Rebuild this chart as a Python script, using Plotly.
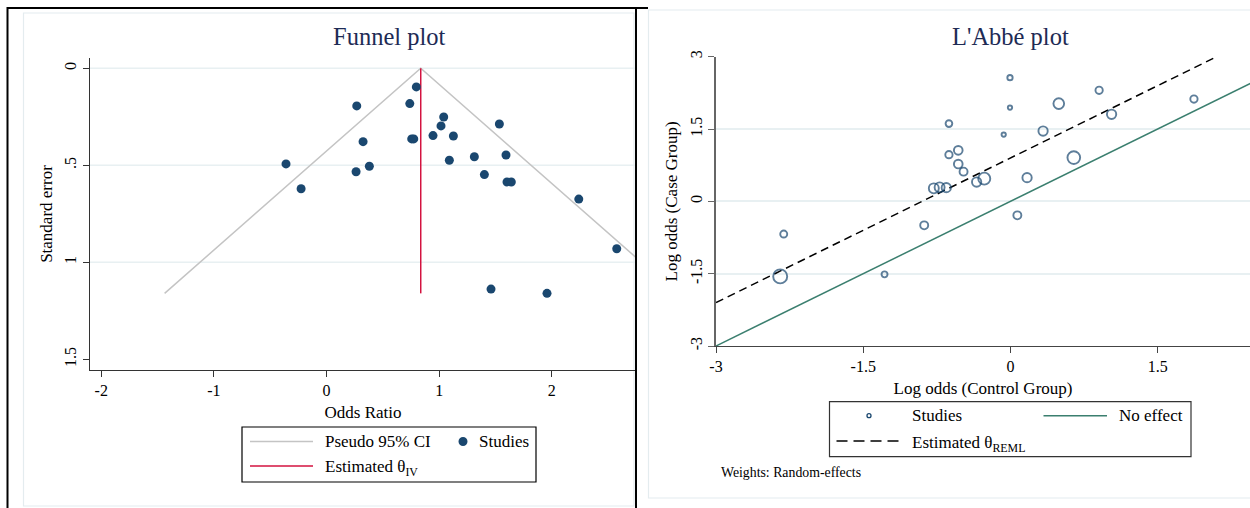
import plotly.graph_objects as go

# ---------------- Funnel plot data (log odds ratio vs standard error) ----------------
funnel_log_or = [-0.360, -0.226, 0.268, 0.324, 0.262, 0.380, 0.739, 0.797, 0.756, 0.774,
                 1.040, 1.016, 0.945, 1.126, 1.090, 1.312, 1.401, 1.534, 1.593, 1.602,
                 1.640, 2.239, 2.576, 1.460, 1.957]
funnel_se = [0.493, 0.621, 0.194, 0.378, 0.533, 0.505, 0.182, 0.096, 0.364, 0.364,
             0.251, 0.297, 0.347, 0.349, 0.474, 0.456, 0.548, 0.287, 0.447, 0.586,
             0.586, 0.674, 0.930, 1.138, 1.160]
theta_iv = 0.836
se_max = 1.16
funnel_xticks = [-2, -1, 0, 1, 2]
funnel_yticks = [0, 0.5, 1, 1.5]
funnel_yticklabels = ["0", ".5", "1", "1.5"]
funnel_gridlines = [0, 0.5, 1]

# ---------------- L'Abbé plot data ----------------
labbe_control = [-2.346, -2.310, -1.283, -0.879, -0.781, -0.722, -0.654, -0.627, -0.627,
                 -0.532, -0.532, -0.478, -0.345, -0.267, -0.069, -0.005, -0.005, 0.070,
                 0.169, 0.332, 0.492, 0.645, 0.903, 1.030, 1.869]
labbe_case = [-1.556, -0.678, -1.514, -0.498, 0.270, 0.290, 0.284, 1.612, 0.969,
              1.058, 0.774, 0.616, 0.400, 0.471, 1.384, 2.566, 1.944, -0.290,
              0.492, 1.458, 2.027, 0.907, 2.303, 1.805, 2.122]
labbe_weight_size = [14, 7, 6, 8, 10, 10, 9.3, 6.7, 7.3,
                     8.7, 8.7, 8, 9.3, 12, 4.3, 5.3, 4.3, 8,
                     9.3, 9.3, 10.7, 12.7, 7.3, 9.3, 7.3]
theta_reml = 0.90
labbe_ticks = [-3, -1.5, 0, 1.5, 3]
labbe_ticklabels = ["-3", "-1.5", "0", "1.5", "3"]

# ---------------- styling ----------------
W, H = 1250, 508
FONT = "Liberation Serif"
NAVY = "#1a476f"
TITLE_C = "#1e2b55"
GRID = "#e8f0f2"
CI_GRAY = "#c4c4c4"
RED = "#d3123f"
GREEN = "#3b7f6f"


def px(x):
    return x / W


def py(y):
    return 1 - y / H


fig = go.Figure()

# Funnel: pseudo 95% CI
ci_x = [theta_iv - 1.96 * se_max, theta_iv, theta_iv + 1.96 * se_max]
ci_y = [se_max, 0, se_max]
fig.add_trace(go.Scatter(x=ci_x, y=ci_y, mode="lines", name="Pseudo 95% CI",
                         line=dict(color=CI_GRAY, width=1.5), xaxis="x", yaxis="y",
                         showlegend=False, hoverinfo="skip"))
fig.add_trace(go.Scatter(x=[theta_iv, theta_iv], y=[0, se_max], mode="lines",
                         name="Estimated θ IV",
                         line=dict(color=RED, width=1.5), xaxis="x", yaxis="y",
                         showlegend=False))
fig.add_trace(go.Scatter(x=funnel_log_or, y=funnel_se, mode="markers", name="Studies",
                         marker=dict(color=NAVY, size=9, line=dict(width=0)),
                         xaxis="x", yaxis="y", showlegend=False))

# L'Abbé: no effect and estimated lines
fig.add_trace(go.Scatter(x=[-3, 3], y=[-3, 3], mode="lines", name="No effect",
                         line=dict(color=GREEN, width=1.5), xaxis="x2", yaxis="y2",
                         showlegend=False, hoverinfo="skip"))
fig.add_trace(go.Scatter(x=[-3, 3 - theta_reml], y=[-3 + theta_reml, 3], mode="lines",
                         name="Estimated θ REML",
                         line=dict(color="black", width=1.5, dash="8px,5px"),
                         xaxis="x2", yaxis="y2", showlegend=False, hoverinfo="skip"))
fig.add_trace(go.Scatter(x=labbe_control, y=labbe_case, mode="markers", name="Studies",
                         marker=dict(symbol="circle-open", color=NAVY, size=labbe_weight_size,
                                     line=dict(color=NAVY, width=1.9)),
                         xaxis="x2", yaxis="y2", showlegend=False))

axis_common = dict(zeroline=False, showline=True, ticks="outside", automargin=False,
                   ticklen=6, tickwidth=1.2,
                   tickfont=dict(family=FONT, size=16, color="black"))
title_font = dict(family=FONT, size=17, color="black")

fig.update_layout(
    width=W, height=H, margin=dict(l=0, r=0, t=0, b=0, pad=0, autoexpand=False),
    autosize=False,
    paper_bgcolor="white", plot_bgcolor="white",
    font=dict(family=FONT, color="black"),
    xaxis=dict(domain=[px(90), px(636)], range=[-2.1, 2.747], tickvals=funnel_xticks,
               ticktext=[str(v) for v in funnel_xticks], linecolor="#333", tickcolor="#333",
               linewidth=1.3, anchor="y", showgrid=False,
               title=dict(text="Odds Ratio", font=title_font, standoff=7),
               **axis_common),
    yaxis=dict(domain=[py(370), py(58)], range=[1.555, -0.053], tickvals=funnel_yticks,
               ticktext=funnel_yticklabels, tickangle=-90, linecolor="#333", tickcolor="#333",
               linewidth=1.3, anchor="x", showgrid=False,
               title=dict(text="Standard error", font=title_font, standoff=5),
               **axis_common),
    xaxis2=dict(domain=[px(716), 1.0], range=[-3, 2.44], tickvals=labbe_ticks,
                ticktext=labbe_ticklabels, linecolor="#444", tickcolor="#444",
                linewidth=1.3, anchor="y2", showgrid=False,
                title=dict(text="Log odds (Control Group)", font=title_font, standoff=7),
                **axis_common),
    yaxis2=dict(domain=[py(346), py(56.7)], range=[-3, 3], tickvals=labbe_ticks,
                ticktext=labbe_ticklabels, tickangle=-90, linecolor="#666", tickcolor="#666",
                linewidth=1.5, anchor="x2",
                title=dict(text="Log odds (Case Group)", font=title_font, standoff=6),
                showgrid=True, gridcolor=GRID, gridwidth=1.5, **axis_common),
)

shapes = []
annotations = []

# funnel horizontal gridlines (Stata draws none at the 1.5 axis end)
for g in funnel_gridlines:
    shapes.append(dict(type="line", xref="x domain", yref="y", x0=0, x1=1, y0=g, y1=g,
                       line=dict(color=GRID, width=1.5), layer="below"))

# panel frames
shapes.append(dict(type="rect", xref="paper", yref="paper", x0=px(23.5), y0=py(506),
                   x1=px(634), y1=py(13), line=dict(color="#e4ecef", width=1.2), layer="below"))
shapes.append(dict(type="rect", xref="paper", yref="paper", x0=px(648.5), y0=py(498),
                   x1=px(1255), y1=py(10), line=dict(color="#e4ecef", width=1.2), layer="below"))
shapes.append(dict(type="rect", xref="paper", yref="paper", x0=px(7.5), y0=py(512),
                   x1=px(636), y1=py(8), line=dict(color="black", width=2)))
shapes.append(dict(type="line", xref="paper", yref="paper", x0=px(636), y0=py(8),
                   x1=px(648), y1=py(8), line=dict(color="black", width=2)))

# titles
annotations.append(dict(text="Funnel plot", x=px(389), y=py(37), xref="paper", yref="paper",
                        showarrow=False, font=dict(family=FONT, size=24.5, color=TITLE_C),
                        xanchor="center", yanchor="middle"))
annotations.append(dict(text="L'Abbé plot", x=px(1010), y=py(37), xref="paper", yref="paper",
                        showarrow=False, font=dict(family=FONT, size=24.5, color=TITLE_C),
                        xanchor="center", yanchor="middle"))

# ---- funnel legend ----
shapes.append(dict(type="rect", xref="paper", yref="paper", x0=px(242), y0=py(482),
                   x1=px(536), y1=py(427), line=dict(color="black", width=1.2),
                   fillcolor="white"))
shapes.append(dict(type="line", xref="paper", yref="paper", x0=px(250), y0=py(441.5),
                   x1=px(313), y1=py(441.5), line=dict(color=CI_GRAY, width=1.5)))
shapes.append(dict(type="line", xref="paper", yref="paper", x0=px(250), y0=py(466),
                   x1=px(313), y1=py(466), line=dict(color=RED, width=1.5)))
shapes.append(dict(type="circle", xref="paper", yref="paper", x0=px(458.5), y0=py(446),
                   x1=px(467.5), y1=py(437), line=dict(color=NAVY, width=0), fillcolor=NAVY))
leg_font = dict(family=FONT, size=17, color="black")
annotations.append(dict(text="Pseudo 95% CI", x=px(323), y=py(441.5), xref="paper",
                        yref="paper", showarrow=False, font=leg_font, xanchor="left",
                        yanchor="middle"))
annotations.append(dict(text="Studies", x=px(477), y=py(441.5), xref="paper",
                        yref="paper", showarrow=False, font=leg_font, xanchor="left",
                        yanchor="middle"))
annotations.append(dict(text="Estimated θ<sub>IV</sub>", x=px(323), y=py(468), xref="paper",
                        yref="paper", showarrow=False, font=leg_font, xanchor="left",
                        yanchor="middle"))

# ---- L'Abbé legend ----
shapes.append(dict(type="rect", xref="paper", yref="paper", x0=px(829.5), y0=py(456.7),
                   x1=px(1191), y1=py(401.7), line=dict(color="#333", width=1.2),
                   fillcolor="white"))
shapes.append(dict(type="circle", xref="paper", yref="paper", x0=px(867), y0=py(417.7),
                   x1=px(871), y1=py(413.7), line=dict(color=NAVY, width=1.3)))
shapes.append(dict(type="line", xref="paper", yref="paper", x0=px(1043.5), y0=py(415.7),
                   x1=px(1107), y1=py(415.7), line=dict(color=GREEN, width=1.5)))
shapes.append(dict(type="line", xref="paper", yref="paper", x0=px(836.5), y0=py(441),
                   x1=px(900), y1=py(441), line=dict(color="black", width=1.5,
                                                       dash="11px,6px")))
annotations.append(dict(text="Studies", x=px(910), y=py(415.7), xref="paper",
                        yref="paper", showarrow=False, font=leg_font, xanchor="left",
                        yanchor="middle"))
annotations.append(dict(text="No effect", x=px(1117), y=py(415.7), xref="paper",
                        yref="paper", showarrow=False, font=leg_font, xanchor="left",
                        yanchor="middle"))
annotations.append(dict(text="Estimated θ<sub>REML</sub>", x=px(910), y=py(443.5),
                        xref="paper", yref="paper", showarrow=False, font=leg_font,
                        xanchor="left", yanchor="middle"))
annotations.append(dict(text="Weights: Random-effects", x=px(719), y=py(472), xref="paper",
                        yref="paper", showarrow=False,
                        font=dict(family=FONT, size=13.8, color="black"),
                        xanchor="left", yanchor="middle"))

fig.update_layout(shapes=shapes, annotations=annotations)
fig.write_html("out.html", config={"displayModeBar": False},
               post_script="document.body.style.margin='0px';")
